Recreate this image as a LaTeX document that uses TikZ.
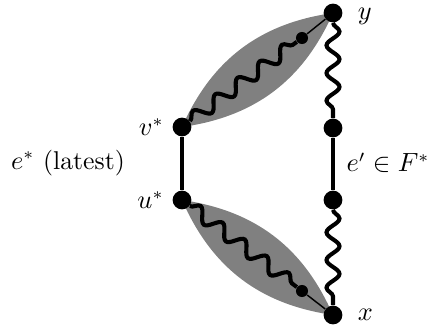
\documentclass[tikz,border=0pt]{standalone}
\usetikzlibrary{decorations.pathmorphing,backgrounds,positioning}
\begin{document}
\begin{tikzpicture}[x=0.0146cm,y=-0.0146cm,
    font=\fontsize{10.7}{13}\selectfont,
    vtx/.style={circle, fill=black, inner sep=0pt, minimum size=7.8pt},
    smallvtx/.style={circle, fill=black, inner sep=0pt, minimum size=5pt},
    edge/.style={line width=1.7pt},
    wavy/.style={line width=1.7pt, decorate,
        decoration={snake, amplitude=2.7pt, segment length=11.5pt}},
    lens/.style={fill=gray},
    endlabel/.style={inner sep=1pt, label distance=5pt}
]
    \useasboundingbox (0,0) rectangle (433,331);

    \node[vtx, label=left:$v^*$] (v) at (182,127) {};
    \node[vtx, label=left:$u^*$] (u) at (182,200) {};
    \node[vtx, label={[endlabel, yshift=-1.5pt]right:$y$}] (y) at (333,13) {};
    \node[vtx, label={[endlabel]right:$x$}] (x) at (333,315) {};
    \node[vtx] (a) at (333,128) {};
    \node[vtx] (b) at (333,200) {};
    \node[smallvtx] (p) at (302,38) {};
    \node[smallvtx] (q) at (302,291) {};

    \node (lat) at (68,163) {$e^*$ (latest)};
    \node (fst) at (388,163) {$e' \in F^*$};

    \begin{scope}[on background layer]
        % the two shaded regions
        \fill[lens] (v.center) to[bend left=29] (y.center) to[bend left=29] (v.center);
        \fill[lens] (u.center) to[bend left=29] (x.center) to[bend left=29] (u.center);

        \draw[wavy] (v) -- (p);
        \draw[wavy] (u) -- (q);
        \draw[wavy] (y) -- (a);
        \draw[wavy] (b) -- (x);
        \draw[semithick] (p) -- (y);
        \draw[semithick] (q) -- (x);
        \draw[edge] (v) -- (u);
        \draw[edge] (a) -- (b);
    \end{scope}
\end{tikzpicture}
\end{document}
